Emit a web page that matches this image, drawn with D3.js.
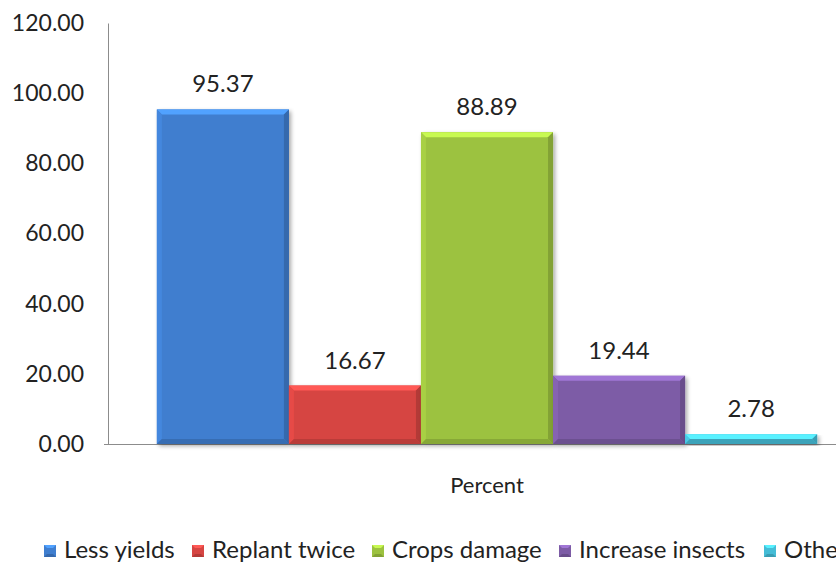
<!DOCTYPE html>
<html><head><meta charset="utf-8">
<script src="https://cdn.jsdelivr.net/npm/d3@7"></script>
<style>body{margin:0;background:#fff;overflow:hidden}svg{display:block}</style>
</head><body>
<script>
const categories = ["Percent"];
const seriesNames = ["Less yields","Replant twice","Crops damage","Increase insects","Others"];
const seriesValues = [95.37, 16.67, 88.89, 19.44, 2.78];
const seriesColors = ["#3f7ecf","#d64542","#9cc23f","#7d5ca6","#45bcd6"];
const yTicks = [0,20,40,60,80,100,120];

const W=836,H=566;
const svg=d3.select("body").append("svg").attr("width",W).attr("height",H);
const font="Lato, 'Open Sans', sans-serif";
const x0=108, x1=866, yTop=23, yBot=444;
const y=d3.scaleLinear().domain([0,120]).range([yBot,yTop]);
const xc=d3.scaleBand().domain(categories).range([x0,x1]).paddingInner(0).paddingOuter(0.074);
const xs=d3.scaleBand().domain(seriesNames).range([0,xc.bandwidth()]).padding(0);

const defs=svg.append("defs");
const f=defs.append("filter").attr("id","sh").attr("x","-10%").attr("y","-10%").attr("width","130%").attr("height","130%");
f.append("feGaussianBlur").attr("in","SourceAlpha").attr("stdDeviation",2);
f.append("feOffset").attr("dx",2).attr("dy",2).attr("result","b");
f.append("feComponentTransfer").append("feFuncA").attr("type","linear").attr("slope",0.35);
const m=f.append("feMerge");m.append("feMergeNode");m.append("feMergeNode").attr("in","SourceGraphic");

// axes
const yAxis=d3.axisLeft(y).tickValues(yTicks).tickSize(0).tickPadding(24).tickFormat(d3.format(".2f"));
const gy=svg.append("g").attr("transform",`translate(${x0},0)`).call(yAxis);
gy.select(".domain").attr("stroke","#8c8c8c");
gy.selectAll("text").attr("font-family",font).attr("font-size",23).attr("fill","#222");

const xAxis=d3.axisBottom(xc).tickSize(0).tickPadding(33);
const gx=svg.append("g").attr("transform",`translate(0,${yBot})`).call(xAxis);
gx.select(".domain").attr("stroke","#8c8c8c").attr("d",`M${x0-4},0.5H${x1}`);
gx.selectAll("text").attr("font-family",font).attr("font-size",22).attr("fill","#222");

// bars
const data=seriesNames.map((n,i)=>({n,v:seriesValues[i],c:seriesColors[i]}));
const g=svg.append("g").attr("transform",`translate(${xc("Percent")},0)`);
const b=5;
data.forEach(d=>{
  const bx=xs(d.n), bw=xs.bandwidth(), by=y(d.v), bh=yBot-by;
  const gg=g.append("g");
  gg.append("rect").attr("x",bx).attr("y",by).attr("width",bw).attr("height",bh).attr("fill",d.c).attr("filter","url(#sh)");
  const bb=Math.min(b,bh/2);
  const c=d3.color(d.c);
  gg.append("polygon").attr("points",`${bx},${by} ${bx+bw},${by} ${bx+bw-bb},${by+bb} ${bx+bb},${by+bb}`).attr("fill",c.brighter(0.7));
  gg.append("polygon").attr("points",`${bx},${by} ${bx+bb},${by+bb} ${bx+bb},${yBot-bb} ${bx},${yBot}`).attr("fill",c.brighter(0.2));
  gg.append("polygon").attr("points",`${bx+bw},${by} ${bx+bw-bb},${by+bb} ${bx+bw-bb},${yBot-bb} ${bx+bw},${yBot}`).attr("fill",c.darker(0.5));
  gg.append("polygon").attr("points",`${bx},${yBot} ${bx+bb},${yBot-bb} ${bx+bw-bb},${yBot-bb} ${bx+bw},${yBot}`).attr("fill",c.darker(0.4));
  gg.append("text").attr("x",bx+bw/2).attr("y",by-17).attr("text-anchor","middle")
    .attr("font-family",font).attr("font-size",24).attr("fill","#222").text(d.v.toFixed(2));
});

// legend
const legX=[44,192,372,559,764];
const lg=svg.append("g");
data.forEach((d,i)=>{
  const it=lg.append("g").attr("transform",`translate(${legX[i]},545)`);
  const c=d3.color(d.c);
  it.append("rect").attr("width",12).attr("height",12).attr("fill",d.c);
  it.append("polygon").attr("points","0,0 12,0 9,3 3,3").attr("fill",c.brighter(0.7));
  it.append("polygon").attr("points","0,12 12,12 9,9 3,9").attr("fill",c.darker(0.5));
  it.append("text").attr("x",20).attr("y",13).attr("font-family",font).attr("font-size",24).attr("fill","#222").text(d.n);
});
</script>
</body></html>
